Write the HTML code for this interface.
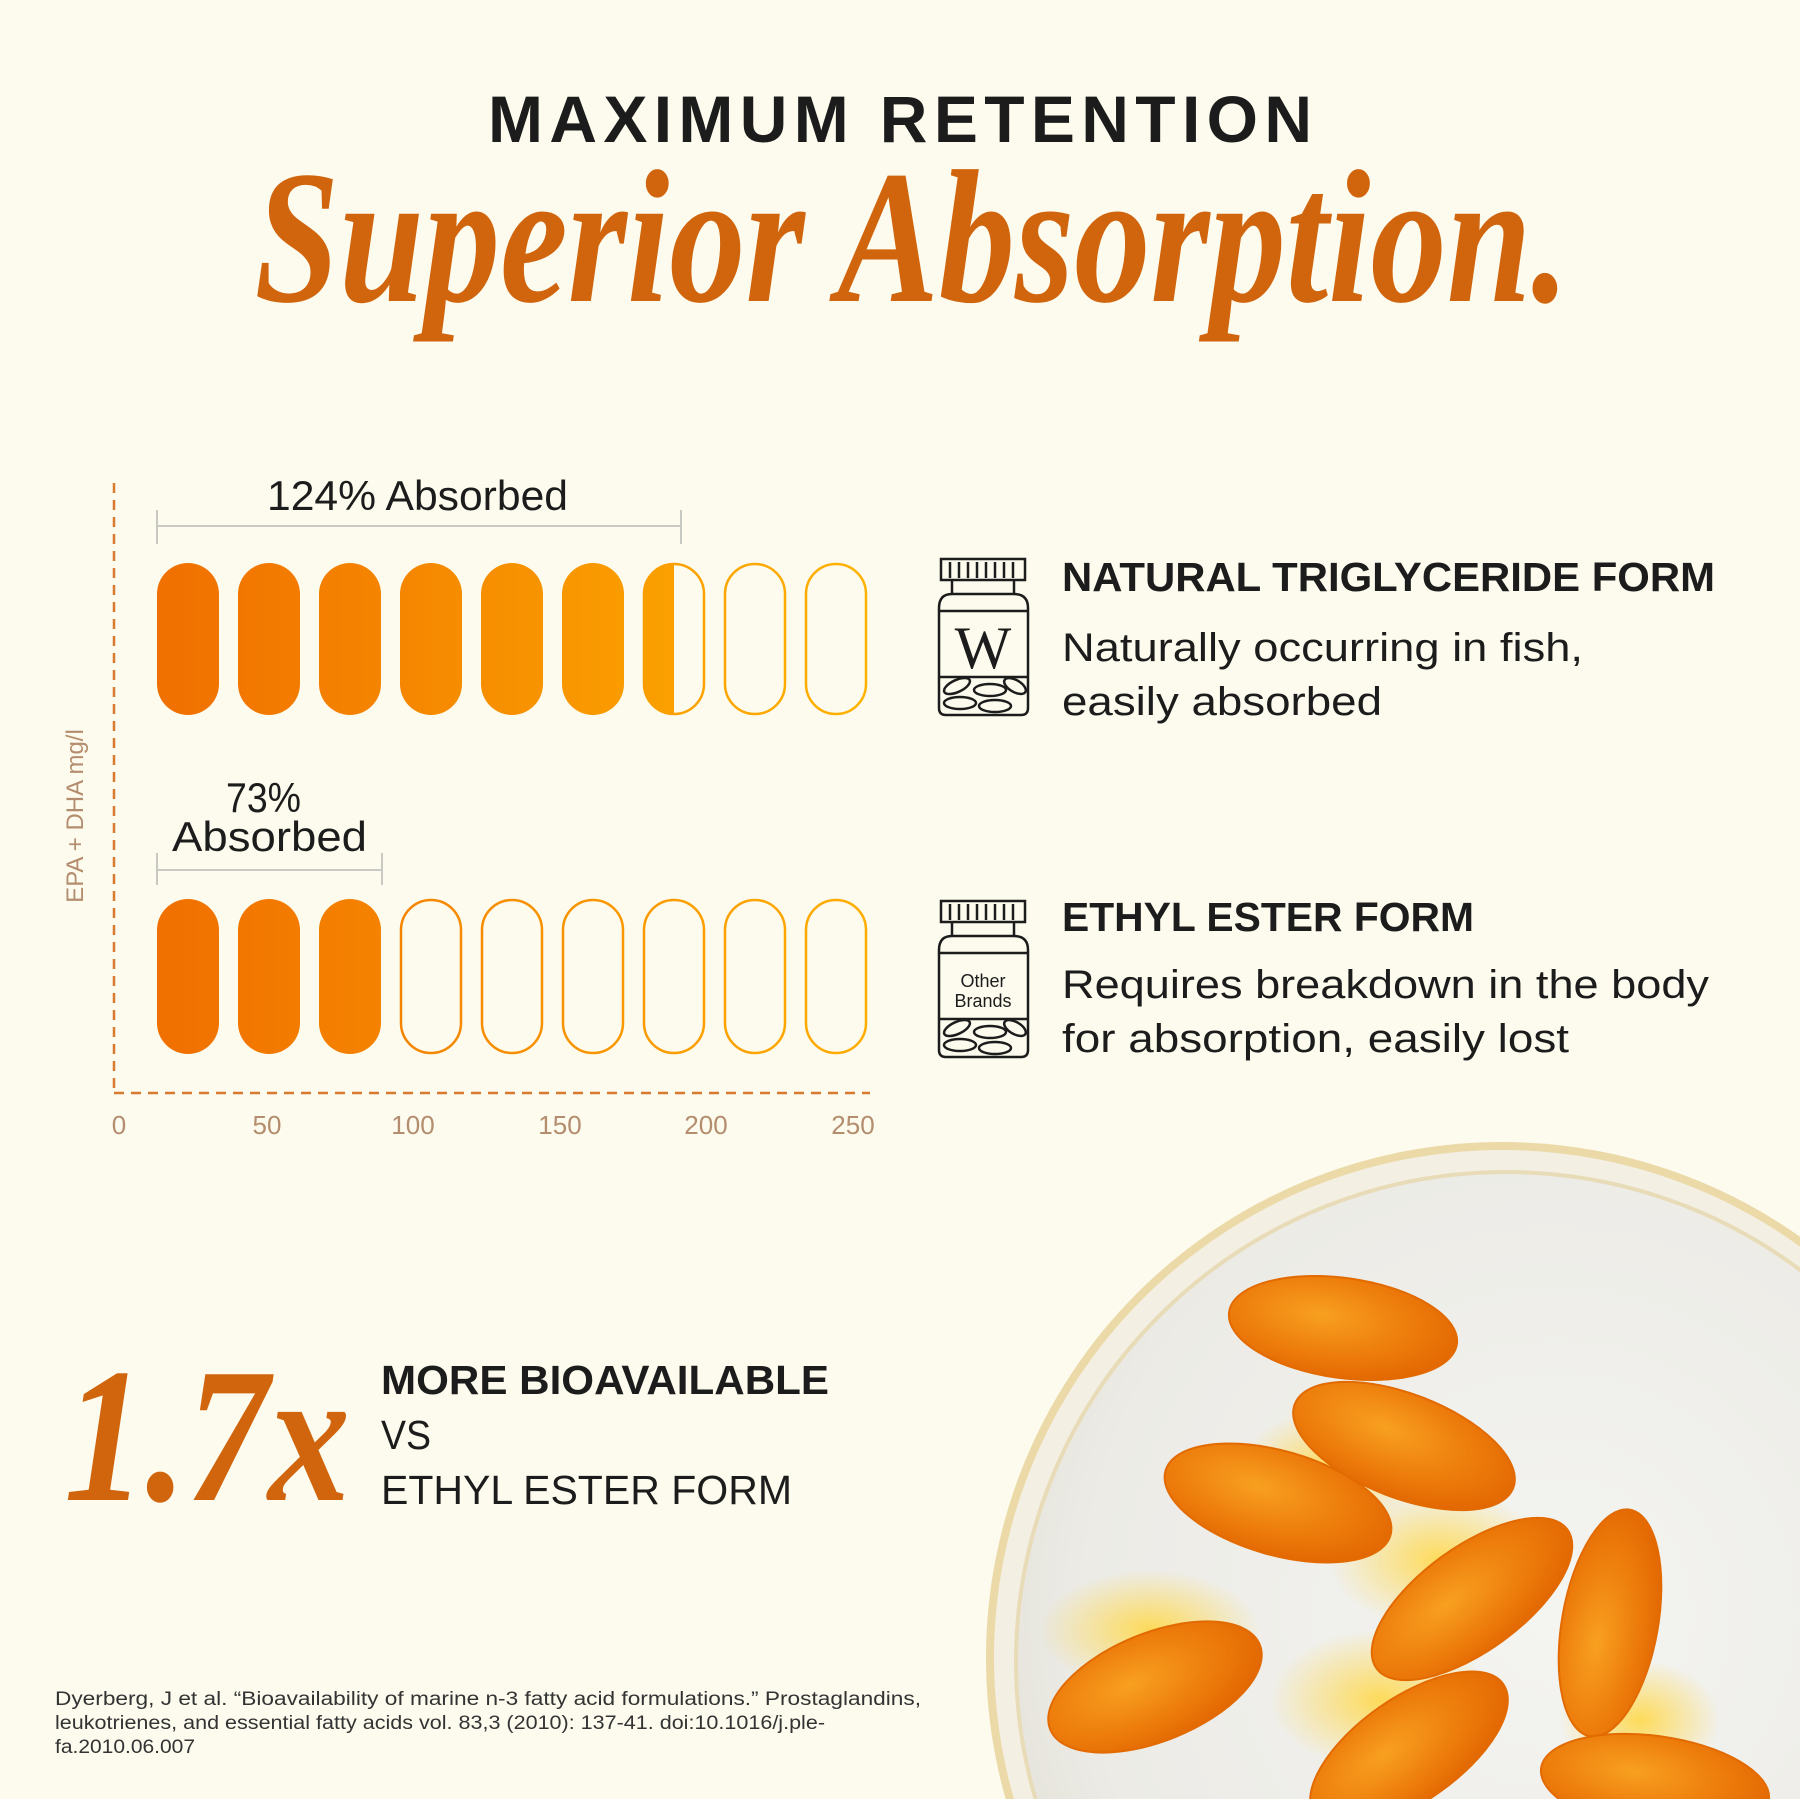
<!DOCTYPE html>
<html><head><meta charset="utf-8"><style>
html,body{margin:0;padding:0;background:#fcfbee;width:1800px;height:1799px;overflow:hidden;}
svg{display:block}
</style></head><body>
<svg width="1800" height="1799" viewBox="0 0 1800 1799" xmlns="http://www.w3.org/2000/svg">
<defs>
<linearGradient id="og" x1="157" y1="0" x2="870" y2="0" gradientUnits="userSpaceOnUse">
<stop offset="0" stop-color="#f06f00"/><stop offset="1" stop-color="#ffb300"/></linearGradient>
<linearGradient id="og2" x1="157" y1="0" x2="870" y2="0" gradientUnits="userSpaceOnUse">
<stop offset="0" stop-color="#f06f00"/><stop offset="1" stop-color="#ffae00"/></linearGradient>
<clipPath id="half"><rect x="640" y="550" width="34" height="180"/></clipPath>
<radialGradient id="bowl" cx="0.55" cy="0.45" r="0.6">
<stop offset="0" stop-color="#f4f4f1"/><stop offset="0.8" stop-color="#ecebe6"/><stop offset="1" stop-color="#e4e2d8"/></radialGradient>
<radialGradient id="cap" cx="0.4" cy="0.4" r="0.7">
<stop offset="0" stop-color="#f8a020"/><stop offset="0.6" stop-color="#ec7a0a"/><stop offset="1" stop-color="#e06200"/></radialGradient>
<radialGradient id="glow" cx="0.5" cy="0.5" r="0.5">
<stop offset="0" stop-color="#ffd84a" stop-opacity="0.9"/><stop offset="1" stop-color="#ffd84a" stop-opacity="0"/></radialGradient>
<clipPath id="page"><rect x="0" y="0" width="1800" height="1799"/></clipPath>
</defs>
<rect width="1800" height="1799" fill="#fcfbee"/>

<text x="900" y="142" text-anchor="middle" font-family="Liberation Sans, sans-serif" font-weight="bold" font-size="66" fill="#1c1c1c" textLength="824" lengthAdjust="spacing">MAXIMUM RETENTION</text>
<text x="912" y="301" text-anchor="middle" font-family="Liberation Serif, serif" font-style="italic" font-weight="bold" font-size="190" fill="#d1650d" textLength="1315" lengthAdjust="spacingAndGlyphs">Superior Absorption.</text>

<line x1="114" y1="483" x2="114" y2="1093" stroke="#d87a30" stroke-width="2.5" stroke-dasharray="10 7"/>
<line x1="114" y1="1093" x2="870" y2="1093" stroke="#d87a30" stroke-width="2.5" stroke-dasharray="10 7"/>
<g font-family="Liberation Sans, sans-serif" font-size="26" fill="#b38d6d" text-anchor="middle">
<text x="119" y="1134">0</text><text x="267" y="1134">50</text><text x="413" y="1134">100</text>
<text x="560" y="1134">150</text><text x="706" y="1134">200</text><text x="853" y="1134">250</text>
<text transform="translate(83,816) rotate(-90)" font-size="24">EPA + DHA mg/l</text>
</g>

<g stroke="#c9c9c4" stroke-width="2" fill="none">
<line x1="157" y1="526" x2="681" y2="526"/><line x1="157" y1="510" x2="157" y2="544"/><line x1="681" y1="510" x2="681" y2="544"/>
<line x1="157" y1="870" x2="382" y2="870"/><line x1="157" y1="853" x2="157" y2="885"/><line x1="382" y1="853" x2="382" y2="885"/>
</g>
<g font-family="Liberation Sans, sans-serif" font-size="42" fill="#1c1c1c">
<text x="267" y="510" textLength="301" lengthAdjust="spacingAndGlyphs">124% Absorbed</text>
<text x="226" y="812" textLength="75" lengthAdjust="spacingAndGlyphs">73%</text>
<text x="172" y="851" textLength="195" lengthAdjust="spacingAndGlyphs">Absorbed</text>
</g>

<g fill="url(#og)">
<rect x="157" y="563" width="62" height="152" rx="31"/>
<rect x="238" y="563" width="62" height="152" rx="31"/>
<rect x="319" y="563" width="62" height="152" rx="31"/>
<rect x="400" y="563" width="62" height="152" rx="31"/>
<rect x="481" y="563" width="62" height="152" rx="31"/>
<rect x="562" y="563" width="62" height="152" rx="31"/>
<rect x="643" y="563" width="62" height="152" rx="31" clip-path="url(#half)"/>
</g>
<g fill="none" stroke="url(#og)" stroke-width="2.5">
<rect x="644" y="564" width="60" height="150" rx="30"/>
<rect x="725" y="564" width="60" height="150" rx="30"/>
<rect x="806" y="564" width="60" height="150" rx="30"/>
</g>
<g fill="url(#og2)">
<rect x="157" y="899" width="62" height="155" rx="31"/>
<rect x="238" y="899" width="62" height="155" rx="31"/>
<rect x="319" y="899" width="62" height="155" rx="31"/>
</g>
<g fill="none" stroke="url(#og2)" stroke-width="2.5">
<rect x="401" y="900" width="60" height="153" rx="30"/>
<rect x="482" y="900" width="60" height="153" rx="30"/>
<rect x="563" y="900" width="60" height="153" rx="30"/>
<rect x="644" y="900" width="60" height="153" rx="30"/>
<rect x="725" y="900" width="60" height="153" rx="30"/>
<rect x="806" y="900" width="60" height="153" rx="30"/>
</g>

<g fill="none" stroke="#1c1c1c" stroke-width="2.5">
<rect x="941" y="559" width="84" height="21"/>
<line x1="950" y1="562" x2="950" y2="578"/><line x1="959" y1="562" x2="959" y2="578"/><line x1="968" y1="562" x2="968" y2="578"/>
<line x1="977" y1="562" x2="977" y2="578"/><line x1="986" y1="562" x2="986" y2="578"/><line x1="995" y1="562" x2="995" y2="578"/>
<line x1="1004" y1="562" x2="1004" y2="578"/><line x1="1013" y1="562" x2="1013" y2="578"/>
<line x1="952" y1="580" x2="952" y2="594"/><line x1="1014" y1="594" x2="1014" y2="580"/>
<path d="M952 594 H1014 Q1028 594 1028 608 V708 Q1028 715 1021 715 H946 Q939 715 939 708 V608 Q939 594 952 594 Z"/>
<line x1="939" y1="611" x2="1028" y2="611"/><line x1="939" y1="677" x2="1028" y2="677"/>
<ellipse cx="957" cy="686" rx="14" ry="6" transform="rotate(-25 957 686)"/>
<ellipse cx="990" cy="690" rx="16" ry="6"/>
<ellipse cx="1015" cy="686" rx="12" ry="6" transform="rotate(30 1015 686)"/>
<ellipse cx="960" cy="703" rx="16" ry="6"/>
<ellipse cx="995" cy="706" rx="16" ry="6"/>
</g>
<text x="983" y="668" text-anchor="middle" font-family="Liberation Serif, serif" font-size="60" fill="#1c1c1c">W</text>
<g fill="none" stroke="#1c1c1c" stroke-width="2.5">
<rect x="941" y="901" width="84" height="21"/>
<line x1="950" y1="904" x2="950" y2="920"/><line x1="959" y1="904" x2="959" y2="920"/><line x1="968" y1="904" x2="968" y2="920"/>
<line x1="977" y1="904" x2="977" y2="920"/><line x1="986" y1="904" x2="986" y2="920"/><line x1="995" y1="904" x2="995" y2="920"/>
<line x1="1004" y1="904" x2="1004" y2="920"/><line x1="1013" y1="904" x2="1013" y2="920"/>
<line x1="952" y1="922" x2="952" y2="936"/><line x1="1014" y1="936" x2="1014" y2="922"/>
<path d="M952 936 H1014 Q1028 936 1028 950 V1050 Q1028 1057 1021 1057 H946 Q939 1057 939 1050 V950 Q939 936 952 936 Z"/>
<line x1="939" y1="953" x2="1028" y2="953"/><line x1="939" y1="1019" x2="1028" y2="1019"/>
<ellipse cx="957" cy="1028" rx="14" ry="6" transform="rotate(-25 957 1028)"/>
<ellipse cx="990" cy="1032" rx="16" ry="6"/>
<ellipse cx="1015" cy="1028" rx="12" ry="6" transform="rotate(30 1015 1028)"/>
<ellipse cx="960" cy="1045" rx="16" ry="6"/>
<ellipse cx="995" cy="1048" rx="16" ry="6"/>
</g>
<text x="983" y="987" text-anchor="middle" font-family="Liberation Sans, sans-serif" font-size="18" fill="#1c1c1c">Other</text>
<text x="983" y="1007" text-anchor="middle" font-family="Liberation Sans, sans-serif" font-size="18" fill="#1c1c1c">Brands</text>

<g font-family="Liberation Sans, sans-serif" fill="#1c1c1c">
<text x="1062" y="591" font-weight="bold" font-size="41" textLength="653" lengthAdjust="spacingAndGlyphs">NATURAL TRIGLYCERIDE FORM</text>
<text x="1062" y="661" font-size="40" textLength="521" lengthAdjust="spacingAndGlyphs">Naturally occurring in fish,</text>
<text x="1062" y="715" font-size="40" textLength="320" lengthAdjust="spacingAndGlyphs">easily absorbed</text>
<text x="1062" y="931" font-weight="bold" font-size="41" textLength="412" lengthAdjust="spacingAndGlyphs">ETHYL ESTER FORM</text>
<text x="1062" y="998" font-size="40" textLength="647" lengthAdjust="spacingAndGlyphs">Requires breakdown in the body</text>
<text x="1062" y="1052" font-size="40" textLength="507" lengthAdjust="spacingAndGlyphs">for absorption, easily lost</text>

<text x="381" y="1394" font-weight="bold" font-size="41" textLength="448" lengthAdjust="spacingAndGlyphs">MORE BIOAVAILABLE</text>
<text x="381" y="1449" font-size="41" textLength="50" lengthAdjust="spacingAndGlyphs">VS</text>
<text x="381" y="1504" font-size="41" textLength="411" lengthAdjust="spacingAndGlyphs">ETHYL ESTER FORM</text>

<g font-size="19" fill="#333">
<text x="55" y="1705" textLength="866" lengthAdjust="spacingAndGlyphs">Dyerberg, J et al. “Bioavailability of marine n-3 fatty acid formulations.” Prostaglandins,</text>
<text x="55" y="1729" textLength="770" lengthAdjust="spacingAndGlyphs">leukotrienes, and essential fatty acids vol. 83,3 (2010): 137-41. doi:10.1016/j.ple-</text>
<text x="55" y="1753" textLength="140" lengthAdjust="spacingAndGlyphs">fa.2010.06.007</text>
</g>
</g>
<text x="64" y="1500" font-family="Liberation Serif, serif" font-style="italic" font-weight="bold" font-size="192" fill="#d1650d" textLength="286" lengthAdjust="spacingAndGlyphs">1.7x</text>

<g clip-path="url(#page)">
<circle cx="1502" cy="1658" r="516" fill="#ecd9a8"/>
<circle cx="1502" cy="1658" r="508" fill="#f3efe2"/>
<circle cx="1506" cy="1662" r="490" fill="url(#bowl)" stroke="#e8dcb8" stroke-width="4"/>
<g>
<ellipse cx="1330" cy="1470" rx="90" ry="60" fill="url(#glow)"/>
<ellipse cx="1440" cy="1560" rx="110" ry="70" fill="url(#glow)"/>
<ellipse cx="1150" cy="1630" rx="110" ry="60" fill="url(#glow)"/>
<ellipse cx="1380" cy="1700" rx="110" ry="70" fill="url(#glow)"/>
<ellipse cx="1640" cy="1720" rx="80" ry="60" fill="url(#glow)"/>
</g>
<g fill="url(#cap)" stroke="#e26a00" stroke-width="2">
<ellipse cx="1343" cy="1328" rx="115" ry="50" transform="rotate(8 1343 1328)"/>
<ellipse cx="1404" cy="1446" rx="117" ry="52" transform="rotate(21 1404 1446)"/>
<ellipse cx="1278" cy="1503" rx="117" ry="52" transform="rotate(16 1278 1503)"/>
<ellipse cx="1472" cy="1599" rx="118" ry="52" transform="rotate(-36 1472 1599)"/>
<ellipse cx="1610" cy="1623" rx="115" ry="48" transform="rotate(-80 1610 1623)"/>
<ellipse cx="1155" cy="1687" rx="113" ry="54" transform="rotate(-22 1155 1687)"/>
<ellipse cx="1409" cy="1750" rx="115" ry="52" transform="rotate(-35 1409 1750)"/>
<ellipse cx="1655" cy="1784" rx="115" ry="48" transform="rotate(8 1655 1784)"/>
</g>
</g>
</svg>
</body></html>
